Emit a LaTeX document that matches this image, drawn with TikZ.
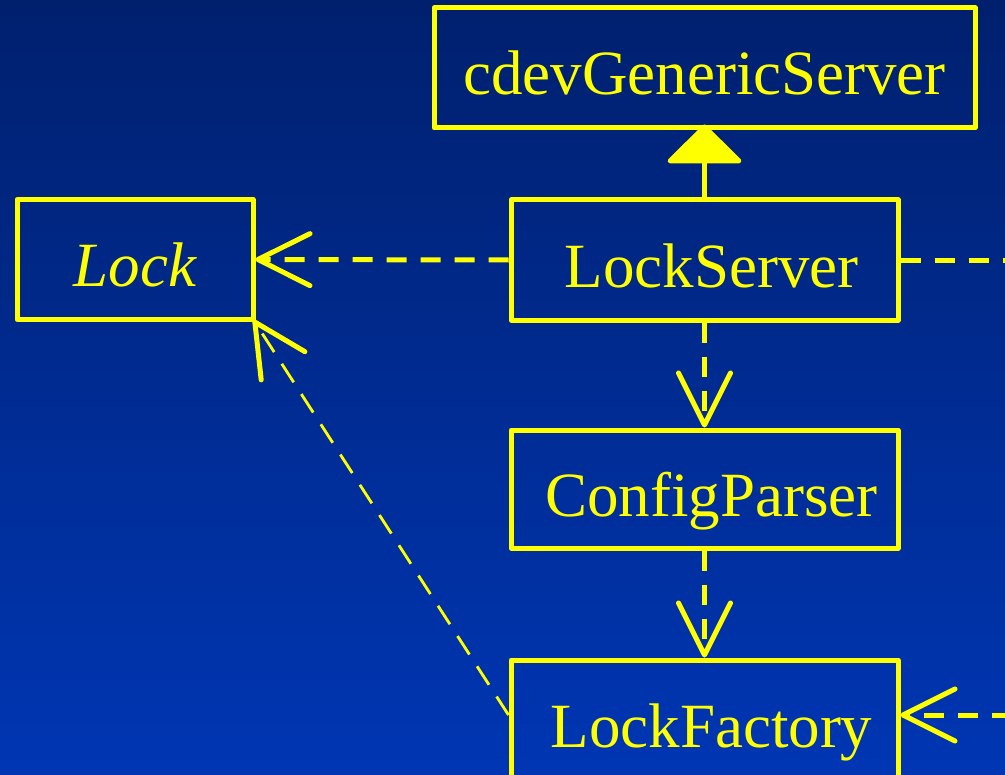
\documentclass[tikz,border=0pt]{standalone}
\usepackage{fontspec}
\setmainfont{Liberation Serif}
\usepackage{xcolor}
\usepackage{tikz}
\usetikzlibrary{arrows.meta,positioning}

\definecolor{slidetop}{RGB}{0,32,110}
\definecolor{slidebot}{RGB}{0,54,180}
\definecolor{umlyellow}{RGB}{255,255,0}

\tikzset{
  classbox/.style={draw=umlyellow,line width=2.5pt,line join=round,
    text=umlyellow,font=\fontsize{31.5}{36}\selectfont,
    minimum height=60pt,text height=27pt,text depth=0pt,inner sep=0pt},
  nudged/.style={execute at begin node=\hspace*{7pt}},
  depends/.style={umlyellow,line width=2.5pt,dash pattern=on 10pt off 7pt,
    -{Straight Barb[length=26pt,width=26pt,line width=2.5pt,round]}},
  thindep/.style={depends,line width=1.4pt,dash pattern=on 11pt off 7pt},
  inherits/.style={umlyellow,line width=2.5pt,
    -{Triangle[length=20pt,width=40pt,round]}}
}

\begin{document}
\begin{tikzpicture}[x=0.5pt,y=-0.5pt]
  \useasboundingbox (0,0) rectangle (1005,775);
  \shade[top color=slidetop,bottom color=slidebot] (0,0) rectangle (1005,775);

  % classes
  \node[classbox,minimum width=270.5pt] (cdev) at (704.5,68) {cdevGenericServer};
  \node[classbox,minimum width=118pt] (lock) at (135,259.5) {\itshape Lock};
  \node[classbox,nudged,minimum width=193.5pt] (server) at (704.5,260) {LockServer};
  \node[classbox,nudged,minimum width=193.5pt,minimum height=59pt] (parser) at (704.5,489) {ConfigParser};
  \node[classbox,nudged,minimum width=193.5pt] (factory) at (704.5,720) {LockFactory};

  % loose ends running off to the right
  \coordinate (srvout) at (1012,260);
  \coordinate (facin) at (1012,715);

  % relations
  \draw[inherits] (server.north) -- ([yshift=3pt]server.north |- cdev.south);
  \draw[depends] (server.west) -- (lock.east);
  \draw[depends] (server.south) -- (parser.north);
  \draw[depends] (parser.south) -- (factory.north);
  \draw[thindep] ([yshift=2.5pt]factory.west) -- ([xshift=-1pt,yshift=1pt]lock.south east);
  \draw[depends,-] (server.east) -- (srvout);
  \draw[depends] (facin) -- ([yshift=2.5pt]factory.east);
\end{tikzpicture}
\end{document}
